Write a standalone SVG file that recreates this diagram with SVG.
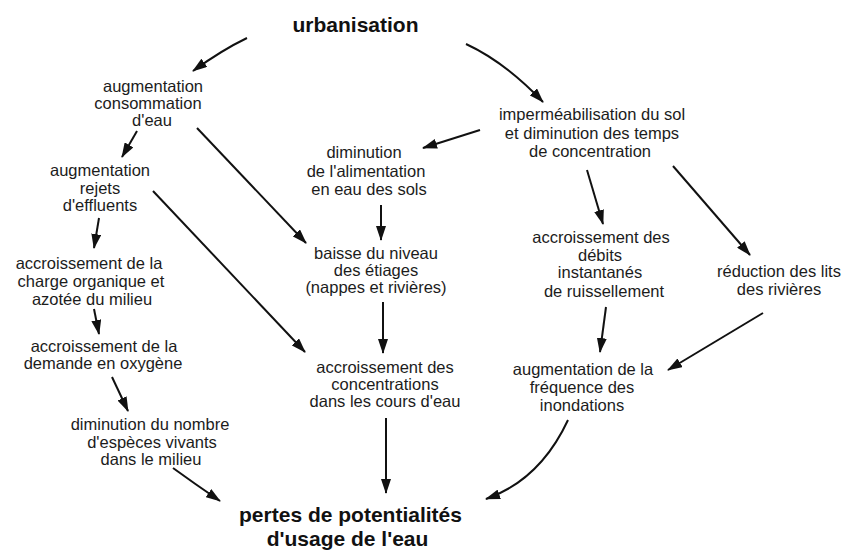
<svg xmlns="http://www.w3.org/2000/svg" width="843" height="553" viewBox="0 0 843 553">
<defs>
<marker id="ah" viewBox="0 0 15 10" refX="14" refY="5" markerWidth="15" markerHeight="10" markerUnits="userSpaceOnUse" orient="auto">
<path d="M0,0 L15,5 L0,10 z" fill="#111"/>
</marker>
</defs>
<style>
text{font-family:"Liberation Sans",Arial,sans-serif;font-size:16.5px;fill:#1c1c1c;text-anchor:middle}
.b{font-weight:bold;font-size:21px;fill:#111}
.c path{fill:none;stroke:#111;stroke-width:2;marker-end:url(#ah)}
</style>
<rect width="843" height="553" fill="#fff"/>
<g id="urbanisation"><text class="b" x="355.5" y="32">urbanisation</text></g>
<g id="consommation"><text x="153" y="92">augmentation</text><text x="148" y="109">consommation</text><text x="152" y="126">d'eau</text></g>
<g id="rejets"><text x="100" y="176">augmentation</text><text x="100" y="194">rejets</text><text x="100" y="211">d'effluents</text></g>
<g id="charge"><text x="89" y="269">accroissement de la</text><text x="91" y="287">charge organique et</text><text x="92" y="305">azotée du milieu</text></g>
<g id="demande"><text x="104" y="352">accroissement de la</text><text x="103" y="369">demande en oxygène</text></g>
<g id="especes"><text x="150" y="430">diminution du nombre</text><text x="152" y="448">d'espèces vivants</text><text x="151" y="465">dans le milieu</text></g>
<g id="alimentation"><text x="364" y="158">diminution</text><text x="366" y="177">de l'alimentation</text><text x="369" y="195">en eau des sols</text></g>
<g id="etiages"><text x="376" y="259">baisse du niveau</text><text x="376" y="276">des étiages</text><text x="376" y="293">(nappes et rivières)</text></g>
<g id="concentrations"><text x="385" y="373">accroissement des</text><text x="385" y="390">concentrations</text><text x="385" y="407">dans les cours d'eau</text></g>
<g id="impermeabilisation"><text x="592" y="120">imperméabilisation du sol</text><text x="592" y="139">et diminution des temps</text><text x="590" y="157">de concentration</text></g>
<g id="debits"><text x="601" y="243">accroissement des</text><text x="600" y="261">débits</text><text x="600" y="278">instantanés</text><text x="604" y="297">de ruissellement</text></g>
<g id="reduction"><text x="779" y="277">réduction des lits</text><text x="779" y="295">des rivières</text></g>
<g id="inondations"><text x="583" y="375">augmentation de la</text><text x="582" y="393">fréquence des</text><text x="582" y="411">inondations</text></g>
<g id="pertes"><text class="b" x="350.5" y="522">pertes de potentialités</text><text class="b" x="347.5" y="546">d'usage de l'eau</text></g>
<g id="connectors" class="c">
<path d="M247,38 Q222,50 193,71"/>
<path d="M466,44 Q505,62 543,102"/>
<path d="M137,131 L122,157"/>
<path d="M197,128 L306,243"/>
<path d="M99,218 L94,248"/>
<path d="M153,191 L305,352"/>
<path d="M94,309 L99,334"/>
<path d="M112,377 L128,411"/>
<path d="M173,468 Q195,484 220,501"/>
<path d="M381,205 L381,240"/>
<path d="M383,302 L383,353"/>
<path d="M386,418 L386,493"/>
<path d="M480,130 L423,148"/>
<path d="M587,170 L603,224"/>
<path d="M673,166 L750,255"/>
<path d="M606,307 L600,352"/>
<path d="M763,313 L668,370"/>
<path d="M568,420 Q540,480 486,499"/>
</g>
</svg>
